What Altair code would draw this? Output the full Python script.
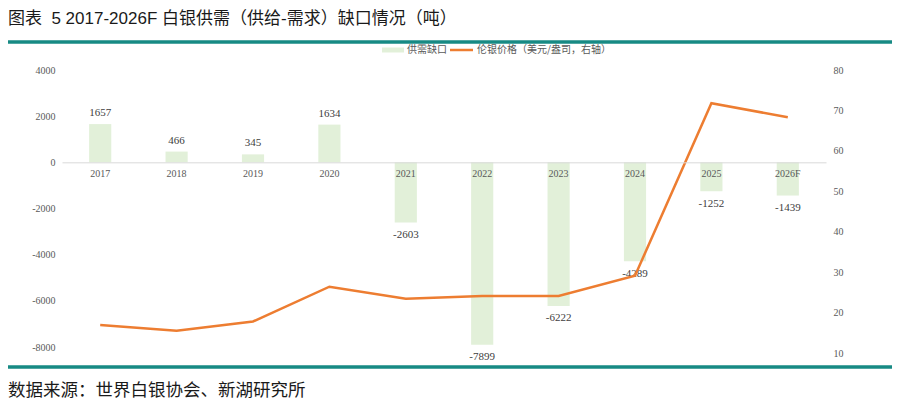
import altair as alt
import pandas as pd

categories = ["2017", "2018", "2019", "2020", "2021", "2022", "2023", "2024", "2025", "2026F"]
gap = [1657, 466, 345, 1634, -2603, -7899, -6222, -4289, -1252, -1439]
price = [16.9, 15.5, 17.8, 26.4, 23.4, 24.1, 24.1, 29.1, 71.8, 68.3]

left_ticks = [-8000, -6000, -4000, -2000, 0, 2000, 4000]
right_ticks = [10, 20, 30, 40, 50, 60, 70, 80]

title_text = "图表\u00a0\u00a05 2017-2026F 白银供需（供给-需求）缺口情况（吨）"
source_text = "数据来源：世界白银协会、新湖研究所"
legend_bar = "供需缺口"
legend_line = "伦银价格（美元/盎司，右轴）"

W, H = 764, 277
BAR = "#e2f0d9"
LINE = "#ed7d31"
TEAL = "#178a84"
GRAY = "#595959"
SERIF = "Liberation Serif"
CJK = "Liberation Sans, Noto Sans CJK SC"

df = pd.DataFrame({"year": categories, "gap": gap, "price": price})

x_enc = alt.X(
    "year:N", sort=categories,
    scale=alt.Scale(paddingInner=0.71, paddingOuter=0.355),
    axis=alt.Axis(title=None, orient="bottom", offset=-H * 8000 / 12000,
                  domainColor="#d9d9d9", ticks=False, labelAngle=0, labelPadding=6,
                  labelFont=SERIF, labelFontSize=10, labelColor=GRAY, zindex=1),
)
y_left_scale = alt.Scale(domain=[-8000, 4000], nice=False, zero=False)

bars = alt.Chart(df).mark_bar(color=BAR).encode(
    x=x_enc,
    y=alt.Y("gap:Q", scale=y_left_scale,
            axis=alt.Axis(values=left_ticks, labelExpr="toString(datum.value)", title=None,
                          domain=False, ticks=False, grid=False, labelPadding=7,
                          labelFont=SERIF, labelFontSize=10, labelColor=GRAY)),
)
txt_pos = alt.Chart(df).transform_filter("datum.gap >= 0").transform_calculate(
    lbl="toString(datum.gap)"
).mark_text(
    baseline="bottom", dy=-6, font=SERIF, fontSize=11, color="#404040"
).encode(x=alt.X("year:N", sort=categories), y=alt.Y("gap:Q", scale=y_left_scale),
         text="lbl:N")
txt_neg = alt.Chart(df).transform_filter("datum.gap < 0").transform_calculate(
    lbl="toString(datum.gap)"
).mark_text(
    baseline="top", dy=6.5, font=SERIF, fontSize=11, color="#404040"
).encode(x=alt.X("year:N", sort=categories), y=alt.Y("gap:Q", scale=y_left_scale),
         text="lbl:N")

left = alt.layer(bars, txt_pos, txt_neg)

line = alt.Chart(df).mark_line(color=LINE, strokeWidth=2.5).encode(
    x=alt.X("year:N", sort=categories),
    y=alt.Y("price:Q", scale=alt.Scale(domain=[10, 80], range=[H + 6, 0], nice=False, zero=False),
            axis=alt.Axis(orient="right", values=right_ticks, title=None, domain=False,
                          ticks=False, grid=False, labelPadding=7, labelFont=SERIF,
                          labelFontSize=10, labelColor=GRAY)),
)

main = alt.layer(left, line).resolve_scale(y="independent")

one = lambda s: pd.DataFrame({"t": [s]})

title = alt.Chart(one(title_text)).mark_text(
    align="left", baseline="middle", fontSize=17, font=CJK, color="#1a1a1a"
).encode(x=alt.value(-54), y=alt.value(-51.5), text="t:N")
top_rule = alt.Chart(one("a")).mark_rule(color=TEAL, strokeWidth=3.5).encode(
    x=alt.value(-54), x2=alt.value(830), y=alt.value(-28))
bot_rule = alt.Chart(one("b")).mark_rule(color=TEAL, strokeWidth=3.5).encode(
    x=alt.value(-54), x2=alt.value(830), y=alt.value(297))
source = alt.Chart(one(source_text)).mark_text(
    align="left", baseline="middle", fontSize=17.5, font=CJK, color="#1a1a1a"
).encode(x=alt.value(-54), y=alt.value(321), text="t:N")

leg_sw = alt.Chart(one("c")).mark_rect(color=BAR).encode(
    x=alt.value(320), x2=alt.value(342), y=alt.value(-22.5), y2=alt.value(-17.5))
leg_t1 = alt.Chart(one(legend_bar)).mark_text(
    align="left", baseline="middle", fontSize=10, font="Noto Sans CJK SC", color=GRAY
).encode(x=alt.value(345), y=alt.value(-20), text="t:N")
leg_ln = alt.Chart(one("d")).mark_rule(color=LINE, strokeWidth=2.5).encode(
    x=alt.value(388), x2=alt.value(411), y=alt.value(-20))
leg_t2 = alt.Chart(one(legend_line)).mark_text(
    align="left", baseline="middle", fontSize=10, font="Noto Sans CJK SC", color=GRAY
).encode(x=alt.value(415), y=alt.value(-20), text="t:N")

chart = alt.layer(
    main, title, top_rule, bot_rule, source, leg_sw, leg_t1, leg_ln, leg_t2
).properties(
    width=W, height=H,
    padding={"left": 54, "top": 62, "right": 66, "bottom": 54},
    autosize=alt.AutoSizeParams(type="none"),
    background="white",
).configure_view(stroke=None)

chart.save("out.html", embed_options={"renderer": "svg", "actions": False})
